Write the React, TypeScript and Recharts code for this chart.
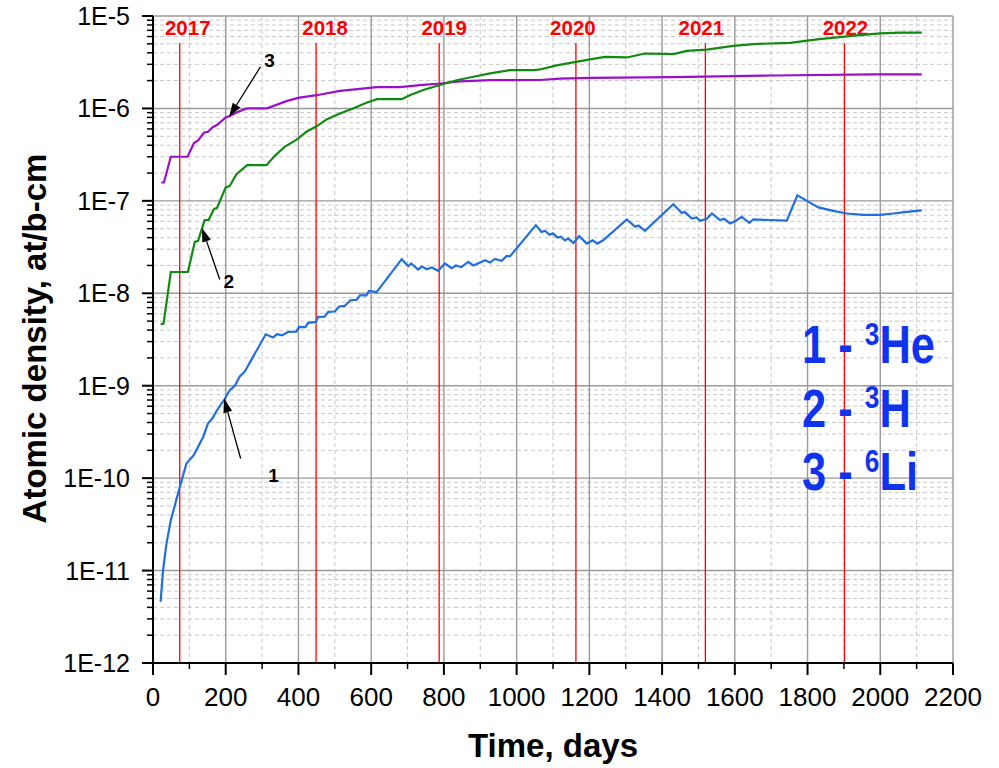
import React from 'react';
import { LineChart, Line, XAxis, YAxis, CartesianGrid, ReferenceLine } from 'recharts';

const FONT = '"Liberation Sans", Arial, Helvetica, sans-serif';

// ---- axis ticks ----
const xMajorTicks = [0, 200, 400, 600, 800, 1000, 1200, 1400, 1600, 1800, 2000, 2200];
const xMinorTicks = [100, 300, 500, 700, 900, 1100, 1300, 1500, 1700, 1900, 2100];
const yMajorTicks = [1e-12, 1e-11, 1e-10, 1e-9, 1e-8, 1e-7, 1e-6, 1e-5];
const yMinorMultipliers = [2, 3, 4, 5, 6, 7, 8, 9];
const yMinorTicks: number[] = [];
yMajorTicks.slice(0, -1).forEach((d) => yMinorMultipliers.forEach((m) => yMinorTicks.push(m * d)));
const xAllTicks = [...xMajorTicks, ...xMinorTicks].sort((a, b) => a - b);
const yAllTicks = [...yMajorTicks, ...yMinorTicks].sort((a, b) => a - b);

// ---- year markers ----
const yearLabels = ['2017', '2018', '2019', '2020', '2021', '2022'];
const yearDays = [73.5, 448.5, 787, 1163, 1519, 1901.5];
const yearLabelShift = [8, 9, 5, -3, -4, 1];
const yearLineTop = 5.1e-6;

// ---- series 1: 3He ----
const he3Days = [21, 27.5, 37, 49, 64, 78, 92, 112, 124, 138, 151, 163, 176, 195, 211, 225, 239, 252, 275, 310,
  330, 341, 355, 372, 394, 402, 419, 427, 448, 454, 472, 482, 500, 512, 527, 543, 560, 569, 587, 594, 615,
  684, 702, 710, 729, 740, 753, 767, 784, 803, 821, 833, 848, 867, 881, 913, 927, 940, 959, 972, 982,
  1053, 1068, 1078, 1090, 1100, 1112, 1122, 1133, 1142, 1156, 1172, 1193, 1209, 1222, 1238,
  1303, 1326, 1335, 1353, 1431, 1454, 1462, 1482, 1495, 1504, 1523, 1537, 1559, 1570, 1587, 1600, 1619, 1640, 1651,
  1743, 1772, 1798, 1830, 1871, 1908, 1954, 2000, 2036, 2073, 2114];
const he3Values = [4.6e-12, 1.0e-11, 1.96e-11, 3.5e-11, 5.8e-11, 9.2e-11, 1.44e-10, 1.77e-10, 2.18e-10, 2.79e-10,
  3.9e-10, 4.42e-10, 5.43e-10, 6.97e-10, 8.93e-10, 1.0e-9, 1.27e-9, 1.41e-9, 2.05e-9, 3.6e-9,
  3.33e-9, 3.6e-9, 3.5e-9, 3.82e-9, 3.85e-9, 4.33e-9, 4.3e-9, 4.79e-9, 4.9e-9, 5.56e-9, 5.6e-9, 6.3e-9, 6.35e-9,
  7.2e-9, 7.3e-9, 8.4e-9, 8.5e-9, 9.5e-9, 9.5e-9, 1.06e-8, 1.03e-8,
  2.34e-8, 1.96e-8, 2.1e-8, 1.81e-8, 1.95e-8, 1.82e-8, 1.9e-8, 1.75e-8, 2.1e-8, 1.87e-8, 2.0e-8, 1.92e-8, 2.19e-8,
  2.0e-8, 2.28e-8, 2.15e-8, 2.35e-8, 2.25e-8, 2.52e-8, 2.52e-8,
  5.46e-8, 4.6e-8, 4.75e-8, 4.3e-8, 4.45e-8, 4.0e-8, 4.1e-8, 3.73e-8, 3.9e-8, 3.51e-8, 4.15e-8, 3.45e-8, 3.75e-8,
  3.45e-8, 3.75e-8,
  6.3e-8, 5.24e-8, 5.4e-8, 4.73e-8, 9.2e-8, 7.4e-8, 7.6e-8, 6.44e-8, 6.6e-8, 6.08e-8, 6.4e-8, 7.3e-8, 6.2e-8,
  6.4e-8, 5.69e-8, 6.0e-8, 6.7e-8, 5.78e-8, 6.3e-8,
  6.1e-8, 1.15e-7, 1.0e-7, 8.5e-8, 7.8e-8, 7.3e-8, 7.05e-8, 7.05e-8, 7.3e-8, 7.6e-8, 7.9e-8];

// ---- series 2: 3H ----
const h3Days = [21, 29, 49, 96, 115, 124, 142, 153, 167, 176, 200, 211, 229, 259, 312, 335, 362, 395, 422, 450,
  477, 514, 550, 587, 616, 684, 706, 743, 789, 835, 881, 927, 982, 1050, 1064, 1110, 1163, 1202, 1243, 1303,
  1353, 1431, 1468, 1523, 1596, 1651, 1752, 1826, 1881, 1936, 2000, 2055, 2114];
const h3Values = [4.6e-9, 4.7e-9, 1.7e-8, 1.7e-8, 3.6e-8, 3.7e-8, 6.2e-8, 6.2e-8, 8.1e-8, 8.4e-8, 1.4e-7, 1.45e-7,
  1.93e-7, 2.43e-7, 2.43e-7, 3.07e-7, 3.84e-7, 4.6e-7, 5.6e-7, 6.4e-7, 7.6e-7, 8.8e-7, 1.0e-6, 1.15e-6, 1.26e-6,
  1.26e-6, 1.39e-6, 1.58e-6, 1.79e-6, 2.02e-6, 2.2e-6, 2.39e-6, 2.6e-6, 2.6e-6, 2.64e-6, 2.92e-6, 3.19e-6, 3.39e-6,
  3.61e-6, 3.56e-6, 3.93e-6, 3.87e-6, 4.2e-6, 4.33e-6, 4.74e-6, 4.97e-6, 5.13e-6, 5.58e-6, 5.86e-6, 6.17e-6,
  6.49e-6, 6.6e-6, 6.6e-6];

// ---- series 3: 6Li ----
const li6Days = [23, 30, 49, 95, 113, 124, 140, 151, 165, 176, 200, 211, 234, 259, 312, 330, 367, 399, 450, 514,
  569, 615, 679, 734, 789, 844, 927, 1000, 1064, 1119, 1202, 1431, 1706, 1981, 2114];
const li6Values = [1.58e-7, 1.58e-7, 3.0e-7, 3.0e-7, 4.25e-7, 4.5e-7, 5.45e-7, 5.6e-7, 6.3e-7, 6.6e-7, 8.0e-7,
  8.3e-7, 9.2e-7, 1.0e-6, 1.0e-6, 1.06e-6, 1.2e-6, 1.3e-6, 1.39e-6, 1.55e-6, 1.63e-6, 1.7e-6, 1.7e-6, 1.79e-6,
  1.86e-6, 1.96e-6, 2.02e-6, 2.02e-6, 2.03e-6, 2.1e-6, 2.14e-6, 2.18e-6, 2.27e-6, 2.33e-6, 2.33e-6];

// ---- curve annotations (arrow tail -> tip, data coords) ----
const arrowNames = ['1', '2', '3'];
const arrowTails = [{ x: 241, y: 1.63e-10 }, { x: 183.5, y: 1.41e-8 }, { x: 295.5, y: 2.82e-6 }];
const arrowTips = [{ x: 195.4, y: 7.26e-10 }, { x: 134.8, y: 5.1e-8 }, { x: 209.2, y: 8.1e-7 }];
const arrowTextOffset = [{ dx: 33, dy: 23 }, { dx: 9, dy: 9 }, { dx: 9, dy: 0 }];

// ---- legend ----
const legendNumbers = ['1', '2', '3'];
const legendMass = ['3', '3', '6'];
const legendElements = ['He', 'H', 'Li'];

const zip = (xs: number[], ys: number[]) => xs.map((x, i) => ({ x, y: ys[i] }));
const he3Data = zip(he3Days, he3Values);
const h3Data = zip(h3Days, h3Values);
const li6Data = zip(li6Days, li6Values);

const isDecade = (v: number) => Math.abs(Math.log10(v) - Math.round(Math.log10(v))) < 1e-6;
const isMajorX = (v: number) => Math.round(v) % 200 === 0;

const YTick = (props: any) => {
  const { x, y, payload } = props;
  const v = payload.value;
  const major = isDecade(v);
  return (
    <g>
      <line x1={x - (major ? 11 : 6)} x2={x} y1={y} y2={y} stroke="#000" strokeWidth={major ? 2 : 1.5} />
      {major && (
        <text x={x - 23} y={y + 9} textAnchor="end" fontFamily={FONT} fontSize={25} fill="#000">
          {'1E' + Math.round(Math.log10(v))}
        </text>
      )}
    </g>
  );
};

const XTick = (props: any) => {
  const { x, y, payload } = props;
  const v = payload.value;
  const major = isMajorX(v);
  return (
    <g>
      <line x1={x} x2={x} y1={y} y2={y + (major ? 12 : 6)} stroke="#000" strokeWidth={major ? 2 : 1.5} />
      {major && (
        <text x={x} y={y + 43} textAnchor="middle" fontFamily={FONT} fontSize={26} fill="#000">
          {String(v)}
        </text>
      )}
    </g>
  );
};

const makeArrow = (name: string, off: { dx: number; dy: number }) => (p: any) => {
  const { x1, y1, x2, y2 } = p;
  const len = Math.hypot(x2 - x1, y2 - y1) || 1;
  const ux = (x2 - x1) / len;
  const uy = (y2 - y1) / len;
  const hl = 14;
  const hw = 4.5;
  const bx = x2 - ux * hl;
  const by = y2 - uy * hl;
  const nx = -uy;
  const ny = ux;
  return (
    <g>
      <line x1={x1} y1={y1} x2={bx} y2={by} stroke="#000" strokeWidth={1.3} />
      <polygon points={`${x2},${y2} ${bx + nx * hw},${by + ny * hw} ${bx - nx * hw},${by - ny * hw}`} fill="#000" />
      <text x={x1 + off.dx} y={y1 + off.dy} textAnchor="middle" fontFamily={FONT} fontWeight="bold" fontSize={19} fill="#000">
        {name}
      </text>
    </g>
  );
};

const yearLabelContent = (text: string, shift: number) => (p: any) => {
  const vb = p.viewBox || {};
  const cx = (vb.x || 0) + (vb.width || 0) / 2 + shift;
  return (
    <text x={cx} y={(vb.y || 0) - 8} textAnchor="middle" fontFamily={FONT} fontWeight="bold" fontSize={20.5} fill="#ff0000">
      {text}
    </text>
  );
};

export default function App() {
  return (
    <div style={{ position: 'absolute', left: 0, top: 0, width: 999, height: 768, background: '#fff' }}>
      <LineChart width={999} height={768} margin={{ top: 16, right: 46, bottom: 0, left: 0 }} style={{ fontFamily: FONT }}>
        <CartesianGrid xAxisId="main" yAxisId="main" horizontalValues={yMinorTicks} verticalValues={xMinorTicks}
          stroke="#c8c8c8" strokeDasharray="4 3" strokeWidth={1} />
        <CartesianGrid xAxisId="main" yAxisId="main" horizontalValues={yMajorTicks} verticalValues={xMajorTicks}
          stroke="#9a9a9a" strokeWidth={1.4} />
        <XAxis xAxisId="main" type="number" dataKey="x" domain={[0, 2200]} ticks={xAllTicks} interval={0}
          allowDataOverflow height={105} tickSize={0} tickMargin={0} tickLine={false} tick={<XTick />}
          axisLine={{ stroke: '#000', strokeWidth: 2 }} />
        <XAxis xAxisId="top" orientation="top" type="number" dataKey="x" domain={[0, 2200]} ticks={xMajorTicks}
          interval={0} allowDataOverflow mirror height={0} tickSize={12} tickFormatter={() => ''}
          tickLine={{ stroke: '#000', strokeWidth: 2 }} axisLine={{ stroke: '#333', strokeWidth: 2 }} />
        <YAxis yAxisId="main" type="number" scale="log" dataKey="y" domain={[1e-12, 1e-5]} ticks={yAllTicks}
          interval={0} allowDataOverflow width={153} tickSize={0} tickMargin={0} tickLine={false} tick={<YTick />}
          axisLine={{ stroke: '#000', strokeWidth: 2 }} />
        <YAxis yAxisId="right" orientation="right" type="number" scale="log" dataKey="y" domain={[1e-12, 1e-5]}
          ticks={yMajorTicks} interval={0} allowDataOverflow mirror width={0} tickSize={13} tickFormatter={() => ''}
          tickLine={{ stroke: '#000', strokeWidth: 2 }} axisLine={{ stroke: '#000', strokeWidth: 2 }} />

        {yearDays.map((d, i) => (
          <ReferenceLine key={'yr' + i} xAxisId="main" yAxisId="main"
            segment={[{ x: d, y: yearLineTop }, { x: d, y: 1e-12 }]}
            stroke="#ff0000" strokeWidth={1.3}
            label={{ content: yearLabelContent(yearLabels[i], yearLabelShift[i]) } as any} />
        ))}

        <Line xAxisId="main" yAxisId="main" data={li6Data} dataKey="y" type="linear" stroke="#9a0fcc" strokeWidth={2.2}
          dot={false} isAnimationActive={false} />
        <Line xAxisId="main" yAxisId="main" data={h3Data} dataKey="y" type="linear" stroke="#118a11" strokeWidth={2.2}
          dot={false} isAnimationActive={false} />
        <Line xAxisId="main" yAxisId="main" data={he3Data} dataKey="y" type="linear" stroke="#1f6fde" strokeWidth={2.2}
          dot={false} isAnimationActive={false} />

        {arrowNames.map((n, i) => (
          <ReferenceLine key={'ar' + i} xAxisId="main" yAxisId="main"
            segment={[arrowTails[i], arrowTips[i]]}
            shape={makeArrow(n, arrowTextOffset[i]) as any} />
        ))}
      </LineChart>

      <svg width={999} height={768} style={{ position: 'absolute', left: 0, top: 0, pointerEvents: 'none' }}>
        <text x={553} y={757} textAnchor="middle" fontFamily={FONT} fontWeight="bold" fontSize={33} fill="#000">
          Time, days
        </text>
        <text transform="translate(46,338.5) rotate(-90)" textAnchor="middle" fontFamily={FONT} fontWeight="bold"
          fontSize={33} fill="#000">
          Atomic density, at/b-cm
        </text>
        {legendNumbers.map((n, i) => (
          <text key={'lg' + i} transform={`translate(802,${363 + i * 63.5}) scale(0.82,1)`} fontFamily={FONT}
            fontWeight="bold" fontSize={53} fill="#1034ee">
            {n + ' - '}
            <tspan fontSize={32} dy={-18.4}>{legendMass[i]}</tspan>
            <tspan fontSize={53} dy={18.4}>{legendElements[i]}</tspan>
          </text>
        ))}
      </svg>
    </div>
  );
}
